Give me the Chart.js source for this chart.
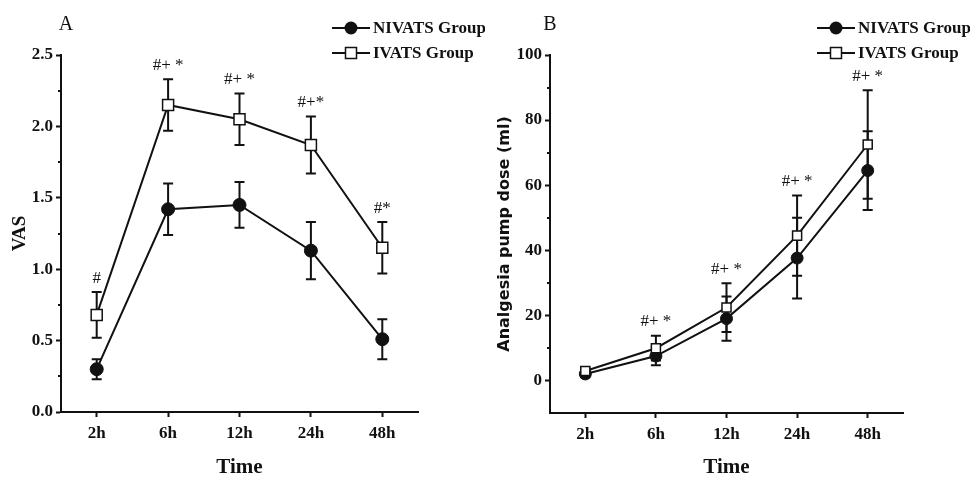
<!DOCTYPE html>
<html>
<head>
<meta charset="utf-8">
<script src="https://cdn.jsdelivr.net/npm/chart.js@4.4.0/dist/chart.umd.min.js"></script>
<style>
  html, body { margin: 0; padding: 0; background: #fff; }
  .panel { position: absolute; top: 0; width: 485px; height: 478px; }
  #panelA { left: 0; }
  #panelB { left: 485px; }
</style>
</head>
<body>
<div class="panel" id="panelA"><canvas id="vasChart"></canvas></div>
<div class="panel" id="panelB"><canvas id="doseChart"></canvas></div>
<script>
const timeLabels = ['2h', '6h', '12h', '24h', '48h'];
const groupNames = ['NIVATS Group', 'IVATS Group'];

// Panel A - VAS score (mean, sd)
const vasNivats = [0.30, 1.42, 1.45, 1.13, 0.51];
const vasNivatsSd = [0.07, 0.18, 0.16, 0.20, 0.14];
const vasIvats = [0.68, 2.15, 2.05, 1.87, 1.15];
const vasIvatsSd = [0.16, 0.18, 0.18, 0.20, 0.18];
const vasMarks = ['#', '#+ *', '#+ *', '#+*', '#*'];
const vasTicks = [0, 0.5, 1.0, 1.5, 2.0, 2.5];

// Panel B - analgesia pump dose (mean, sd)
const doseNivats = [2.0, 7.5, 19.0, 37.6, 64.5];
const doseNivatsSd = [1.0, 2.8, 6.8, 12.4, 12.1];
const doseIvats = [2.9, 9.9, 22.4, 44.5, 72.5];
const doseIvatsSd = [1.0, 3.8, 7.5, 12.3, 16.7];
const doseMarks = ['', '#+ *', '#+ *', '#+ *', '#+ *'];
const doseTicks = [0, 20, 40, 60, 80, 100];

const SERIF = '"Liberation Serif", "Times New Roman", serif';
const INK = '#111';

// error bars, significance marks, minor ticks, legend and panel letter
function extrasPlugin(cfg) {
  return {
    id: 'extras',
    beforeDatasetsDraw(chart) {
      const ctx = chart.ctx;
      const y = chart.scales.y;
      ctx.save();
      ctx.strokeStyle = INK;
      ctx.lineWidth = 2;
      cfg.sds.forEach((sd, i) => {
        const meta = chart.getDatasetMeta(i);
        const vals = chart.data.datasets[i].data;
        meta.data.forEach((pt, j) => {
          const top = y.getPixelForValue(vals[j] + sd[j]);
          const bot = y.getPixelForValue(vals[j] - sd[j]);
          ctx.beginPath();
          ctx.moveTo(pt.x, top); ctx.lineTo(pt.x, bot);
          ctx.moveTo(pt.x - 5, top); ctx.lineTo(pt.x + 5, top);
          ctx.moveTo(pt.x - 5, bot); ctx.lineTo(pt.x + 5, bot);
          ctx.stroke();
        });
      });
      ctx.restore();
    },
    afterDraw(chart) {
      const ctx = chart.ctx;
      const y = chart.scales.y;
      const x = chart.scales.x;
      const area = chart.chartArea;
      ctx.save();
      ctx.fillStyle = INK;
      ctx.strokeStyle = INK;

      // significance marks above the highest error bar
      ctx.font = '17px ' + SERIF;
      ctx.textAlign = 'center';
      ctx.textBaseline = 'middle';
      cfg.marks.forEach((m, j) => {
        if (!m) return;
        let hi = -Infinity;
        chart.data.datasets.forEach((ds, i) => { hi = Math.max(hi, ds.data[j] + cfg.sds[i][j]); });
        ctx.fillText(m, x.getPixelForValue(j), y.getPixelForValue(hi) - 14);
      });

      // minor ticks halfway between the major ones
      ctx.lineWidth = 2;
      for (let k = 0; k < cfg.ticks.length - 1; k++) {
        const py = Math.round(y.getPixelForValue((cfg.ticks[k] + cfg.ticks[k + 1]) / 2));
        ctx.beginPath();
        ctx.moveTo(area.left - 3, py); ctx.lineTo(area.left, py);
        ctx.stroke();
      }

      // panel letter
      ctx.font = '20px ' + SERIF;
      ctx.fillText(cfg.letter, cfg.letterX, 25);

      // legend
      ctx.font = 'bold 17px ' + SERIF;
      ctx.textAlign = 'left';
      const rows = [28, 53];
      rows.forEach((ly, i) => {
        ctx.lineWidth = 2;
        ctx.beginPath();
        ctx.moveTo(332, ly); ctx.lineTo(370, ly);
        ctx.stroke();
        ctx.lineWidth = 1.5;
        if (i === 0) {
          ctx.beginPath();
          ctx.arc(351, ly, 6.5, 0, Math.PI * 2);
          ctx.fill();
        } else {
          ctx.fillStyle = '#fff';
          ctx.fillRect(345.5, ly - 5.5, 11, 11);
          ctx.strokeRect(345.5, ly - 5.5, 11, 11);
          ctx.fillStyle = INK;
        }
        ctx.fillText(groupNames[i], 373, ly + 1);
      });
      ctx.restore();
    }
  };
}

function makeChart(canvasId, opt) {
  const ctx = document.getElementById(canvasId).getContext('2d');
  return new Chart(ctx, {
    type: 'line',
    data: {
      labels: timeLabels,
      datasets: [{
        label: groupNames[0],
        data: opt.nivats,
        borderColor: INK,
        borderWidth: 2,
        backgroundColor: INK,
        pointStyle: 'circle',
        pointRadius: opt.circleR,
        pointBorderWidth: 1,
        pointBackgroundColor: INK,
        pointBorderColor: INK,
        tension: 0,
        order: 1
      }, {
        label: groupNames[1],
        data: opt.ivats,
        borderColor: INK,
        borderWidth: 2,
        backgroundColor: '#fff',
        pointStyle: 'rect',
        pointRadius: opt.rectR,
        pointBorderWidth: 1.5,
        pointBackgroundColor: '#fff',
        pointBorderColor: INK,
        tension: 0,
        order: 0
      }]
    },
    options: {
      responsive: true,
      maintainAspectRatio: false,
      animation: false,
      layout: { padding: { left: 0, right: 67, top: 55, bottom: 0 } },
      plugins: {
        legend: { display: false },
        tooltip: { enabled: false }
      },
      scales: {
        x: {
          offset: true,
          grid: { display: true, drawOnChartArea: false, drawTicks: true, tickLength: 5, tickWidth: 2, tickColor: INK },
          border: { display: true, color: INK, width: 2 },
          ticks: { color: INK, padding: 6, font: { family: SERIF, weight: 'bold', size: 17 } },
          title: { display: true, text: 'Time', color: INK, padding: 0, font: { family: SERIF, weight: 'bold', size: 21, lineHeight: 1 } },
          afterFit: s => { s.height = opt.xHeight; }
        },
        y: {
          min: opt.yMin,
          max: opt.yMax,
          afterBuildTicks: s => { s.ticks = opt.ticks.map(v => ({ value: v })); },
          grid: { display: true, drawOnChartArea: false, drawTicks: true, tickLength: 5, tickWidth: 2, tickColor: INK },
          border: { display: true, color: INK, width: 2 },
          ticks: { color: INK, padding: 3, font: { family: SERIF, weight: 'bold', size: 17 }, callback: opt.fmt },
          title: { display: true, text: opt.yTitle, color: INK, padding: { top: opt.yTitlePad, bottom: 0 }, font: opt.yTitleFont },
          afterFit: s => { s.width = opt.yWidth; }
        }
      }
    },
    plugins: [extrasPlugin({ sds: [opt.nivatsSd, opt.ivatsSd], marks: opt.marks, ticks: opt.ticks, letter: opt.letter, letterX: opt.letterX })]
  });
}

makeChart('vasChart', {
  nivats: vasNivats, nivatsSd: vasNivatsSd,
  ivats: vasIvats, ivatsSd: vasIvatsSd,
  marks: vasMarks, ticks: vasTicks,
  yMin: 0, yMax: 2.5,
  fmt: v => v.toFixed(1),
  yTitle: 'VAS',
  yTitleFont: { family: SERIF, weight: 'bold', size: 19, lineHeight: 1 },
  yTitlePad: 11,
  yWidth: 61, xHeight: 66,
  circleR: 6.5, rectR: 7.8,
  letter: 'A', letterX: 66
});

makeChart('doseChart', {
  nivats: doseNivats, nivatsSd: doseNivatsSd,
  ivats: doseIvats, ivatsSd: doseIvatsSd,
  marks: doseMarks, ticks: doseTicks,
  yMin: -10, yMax: 100,
  fmt: v => String(v),
  yTitle: 'Analgesia pump dose (ml)',
  yTitleFont: { family: '"DejaVu Sans", sans-serif', weight: 'bold', size: 16, lineHeight: 1 },
  yTitlePad: 12,
  yWidth: 65, xHeight: 65,
  circleR: 6, rectR: 6.4,
  letter: 'B', letterX: 65
});
</script>
</body>
</html>
